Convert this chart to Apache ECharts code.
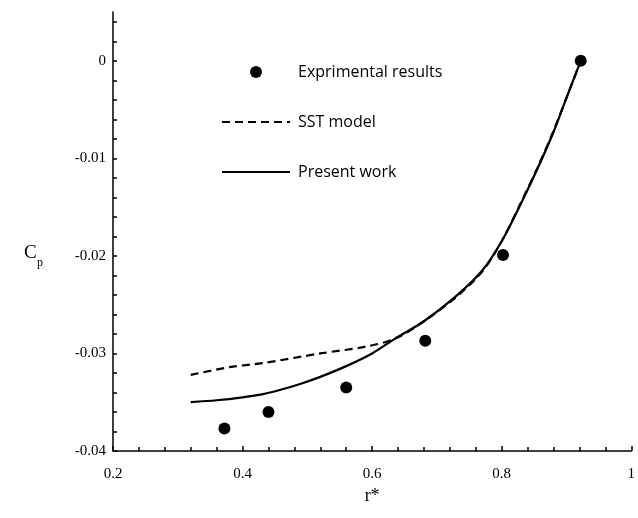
<!DOCTYPE html>
<html>
<head>
<meta charset="utf-8">
<script src="https://cdn.jsdelivr.net/npm/echarts@6/dist/echarts.min.js"></script>
<style>html,body{margin:0;padding:0;background:#fff}#c{width:638px;height:518px}</style>
</head>
<body>
<div id="c"></div>
<script>
// Experimental results
var expX = [0.372, 0.440, 0.560, 0.682, 0.802, 0.922];
var expY = [-0.0377, -0.0360, -0.0335, -0.0287, -0.0199, 0.0];
// SST model (dashed)
var sstX = [0.32, 0.38, 0.43, 0.52, 0.59, 0.635, 0.68, 0.73, 0.77, 0.80, 0.83, 0.855, 0.88, 0.90, 0.922];
var sstY = [-0.0322, -0.0314, -0.0310, -0.0300, -0.0293, -0.0285, -0.0267, -0.0242, -0.0216, -0.0185, -0.0145, -0.0110, -0.0072, -0.0038, 0.0];
// Present work (solid)
var presX = [0.32, 0.36, 0.40, 0.43, 0.46, 0.49, 0.52, 0.56, 0.60, 0.635, 0.68, 0.73, 0.77, 0.80, 0.83, 0.855, 0.88, 0.90, 0.922];
var presY = [-0.0350, -0.0348, -0.0345, -0.0342, -0.0337, -0.0331, -0.0324, -0.0313, -0.0300, -0.0285, -0.0267, -0.0241, -0.0215, -0.0185, -0.0146, -0.0111, -0.0073, -0.0038, 0.0];
// Tick labels
var yLabelValues = [-0.04, -0.03, -0.02, -0.01, 0];
var yTickValues = [-0.04, -0.038, -0.036, -0.034, -0.032, -0.03, -0.028, -0.026, -0.024, -0.022, -0.02, -0.018, -0.016, -0.014, -0.012, -0.01, -0.008, -0.006, -0.004, -0.002, 0, 0.002, 0.004];
var seriesNames = ['Exprimental results', 'SST model', 'Present work'];

function zip(xs, ys) { return xs.map(function (x, i) { return [x, ys[i]]; }); }

var chart = echarts.init(document.getElementById('c'), null, {renderer: 'canvas'});
var serif = 'Liberation Serif';
chart.setOption({
  animation: false,
  backgroundColor: '#ffffff',
  grid: {left: 113, right: 3, top: 12, bottom: 67, containLabel: false},
  legend: {
    orient: 'vertical', left: 216, top: 59, itemGap: 34, itemWidth: 68, itemHeight: 12,
    data: [
      {name: seriesNames[0]},
      {name: seriesNames[1], itemStyle: {opacity: 0}},
      {name: seriesNames[2], itemStyle: {opacity: 0}}
    ],
    textStyle: {fontFamily: 'Open Sans', fontSize: 16, lineHeight: 16, color: '#000', padding: [0, 0, 0, 3]}
  },
  xAxis: {
    type: 'value', min: 0.2, max: 1, interval: 0.2,
    name: 'r*', nameLocation: 'middle', nameGap: 34,
    nameTextStyle: {fontFamily: serif, fontSize: 18, color: '#000'},
    axisLine: {onZero: false, lineStyle: {color: '#000', width: 1.5}},
    axisTick: {inside: true, length: 5, lineStyle: {color: '#000', width: 1.5}},
    minorTick: {show: true, splitNumber: 5, length: 4, lineStyle: {color: '#000', width: 1.5}},
    axisLabel: {fontFamily: serif, fontSize: 15, color: '#000', margin: 16,
      formatter: function (v) { return String(+v.toFixed(2)); }},
    splitLine: {show: false}
  },
  yAxis: {
    type: 'value', min: -0.04, max: 0.005, interval: 0.01,
    axisLine: {onZero: false, lineStyle: {color: '#000', width: 1.5}},
    axisTick: {inside: true, length: 4, customValues: yTickValues, lineStyle: {color: '#000', width: 1.5}},
    axisLabel: {fontFamily: serif, fontSize: 15, color: '#000', margin: 7, customValues: yLabelValues,
      formatter: function (v) { return String(+v.toFixed(3)); }},
    splitLine: {show: false}
  },
  graphic: [
    {type: 'text', left: 24, top: 244, style: {text: 'C', font: '19px "Liberation Serif"', fill: '#000'}},
    {type: 'text', left: 37, top: 257, style: {text: 'p', font: '12px "Liberation Serif"', fill: '#000'}}
  ],
  series: [
    {name: seriesNames[0], type: 'scatter', data: zip(expX, expY), symbol: 'circle', symbolSize: 12,
      itemStyle: {color: '#000', opacity: 1}, z: 5},
    {name: seriesNames[1], type: 'line', data: zip(sstX, sstY), symbol: 'none', smooth: 0.3,
      itemStyle: {color: '#000'}, lineStyle: {color: '#000', width: 2.2, type: [8, 5]}},
    {name: seriesNames[2], type: 'line', data: zip(presX, presY), symbol: 'none', smooth: 0.3,
      itemStyle: {color: '#000'}, lineStyle: {color: '#000', width: 2.2}}
  ]
});
</script>
</body>
</html>
